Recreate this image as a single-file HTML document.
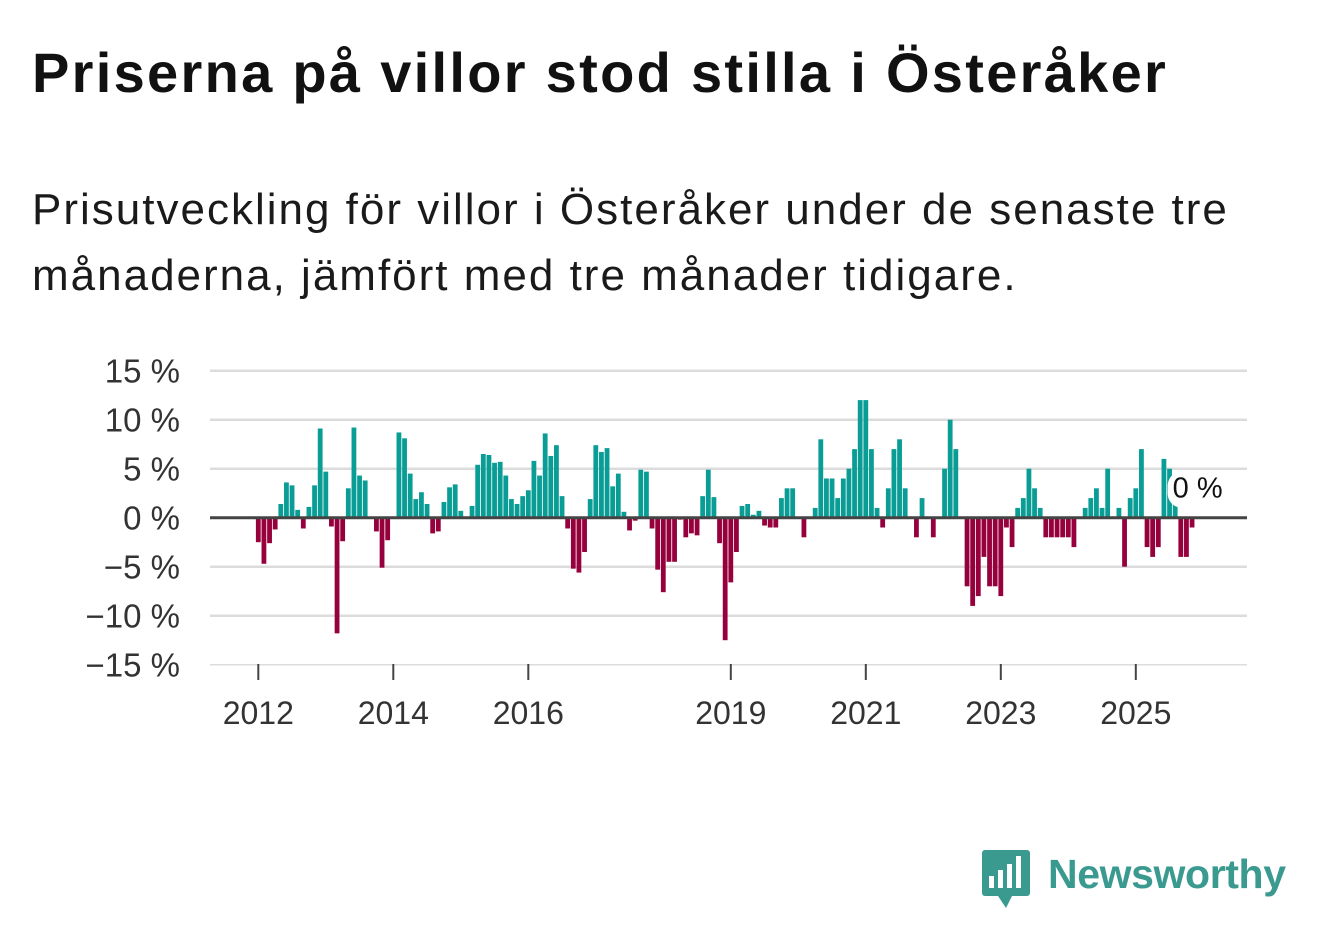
<!DOCTYPE html>
<html><head><meta charset="utf-8"><style>
body{margin:0;background:#fff;width:1322px;height:939px;overflow:hidden;font-family:"Liberation Sans",sans-serif;}
h1{position:absolute;left:32px;top:40px;margin:0;font-size:56px;font-weight:bold;color:#111;letter-spacing:2.3px;white-space:nowrap}
.sub{position:absolute;left:32px;top:177px;margin:0;font-size:44px;line-height:66px;color:#1a1a1a;width:1250px;letter-spacing:2px}
svg{position:absolute;left:0;top:0}
</style></head><body>
<h1>Priserna på villor stod stilla i Österåker</h1>
<p class="sub">Prisutveckling för villor i Österåker under de senaste tre månaderna, jämfört med tre månader tidigare.</p>
<svg id="chart" width="1322" height="939"></svg>
<script>
const values=[-2.5,-4.7,-2.6,-1.2,1.4,3.6,3.3,0.8,-1.1,1.1,3.3,9.1,4.7,-0.9,-11.8,-2.4,3.0,9.2,4.3,3.8,0,-1.4,-5.1,-2.3,0,8.7,8.1,4.5,1.9,2.6,1.4,-1.6,-1.4,1.6,3.1,3.4,0.7,0,1.2,5.4,6.5,6.4,5.6,5.7,4.3,1.9,1.4,2.2,2.8,5.8,4.3,8.6,6.3,7.4,2.2,-1.1,-5.2,-5.6,-3.5,1.9,7.4,6.7,7.1,3.2,4.5,0.6,-1.3,-0.3,4.9,4.7,-1.1,-5.3,-7.6,-4.5,-4.5,-0.2,-2.0,-1.6,-1.8,2.2,4.9,2.1,-2.6,-12.5,-6.6,-3.5,1.2,1.4,0.3,0.7,-0.8,-1.0,-1.0,2,3,3,0,-2,0,1,8,4,4,2,4,5,7,12,12,7,1,-1,3,7,8,3,0,-2,2,0,-2,0,5,10,7,0,-7,-9,-8,-4,-7,-7,-8,-1,-3,1,2,5,3,1,-2,-2,-2,-2,-2,-3,0,1,2,3,1,5,0,1,-5,2,3,7,-3,-4,-3,6,5,1.5,-4,-4,-1,0];
const startYear=2012;
const yTicks=[15,10,5,0,-5,-10,-15];
const yTickLabels=["15 %","10 %","5 %","0 %","−5 %","−10 %","−15 %"];
const xTickYears=[2012,2014,2016,2019,2021,2023,2025];
const lastLabel="0 %";
const svg=document.getElementById('chart');
const NS='http://www.w3.org/2000/svg';
const y=v=>517.7-v*9.8;
const x=m=>258.3+m*5.625;
function mk(t,a){const e=document.createElementNS(NS,t);for(const k in a)e.setAttribute(k,a[k]);svg.appendChild(e);return e;}
yTicks.forEach((t,i)=>{
  if(t!==0){const g=mk('line',{x1:210,x2:1247,y1:y(t),y2:y(t),stroke:'#dcdcdc','stroke-width':t===-15?1.5:2.5});
  
  }
  const l=mk('text',{x:180,y:y(t)+12,'text-anchor':'end','font-size':33,fill:'#333'});
  l.textContent=yTickLabels[i];
  
  
});
values.forEach((v,i)=>{
  const top=Math.min(y(v),y(0)),h=Math.abs(y(v)-y(0));
  const r=mk('rect',{x:x(i)-2.4,y:top,width:4.8,height:h,fill:v>=0?'#0a9d96':'#96003c'});
  
  
});
const z=mk('line',{x1:210,x2:1247,y1:y(0),y2:y(0),stroke:'#444','stroke-width':3});


xTickYears.forEach(yr=>{
  const xx=x((yr-startYear)*12);
  const t=mk('line',{x1:xx,x2:xx,y1:664,y2:680,stroke:'#444','stroke-width':2});
  
  
  const l=mk('text',{x:xx,y:724,'text-anchor':'middle','font-size':32,fill:'#333'});
  l.textContent=yr;
  
  
});
const li=values.length-1;
const bg=mk('rect',{x:x(li)-30,y:y(values[li])-46,width:58,height:36,rx:14,fill:'#fff'});


const lv=mk('text',{x:x(li),y:y(values[li])-20,'text-anchor':'middle','font-size':29,fill:'#111'});
lv.textContent=lastLabel;


</script>
<svg width="1322" height="939">
<rect x="982" y="850" width="48" height="46" rx="3" fill="#3a9a8f"/>
<polygon points="998,896 1012,896 1006,908" fill="#3a9a8f"/>
<rect x="989" y="876" width="5" height="12" fill="#fff"/><rect x="998" y="870" width="5" height="18" fill="#fff"/><rect x="1007" y="864" width="5" height="24" fill="#fff"/><rect x="1016" y="856" width="5" height="32" fill="#fff"/>
<text x="1048" y="888" font-size="41" font-weight="bold" fill="#3a9a8f" font-family="Liberation Sans, sans-serif" textLength="238">Newsworthy</text>
</svg>
</body></html>
